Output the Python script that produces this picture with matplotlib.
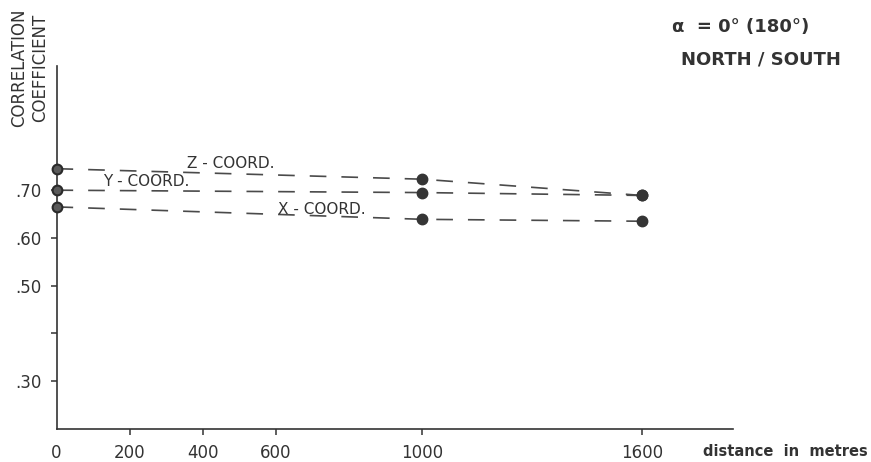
import matplotlib
matplotlib.use("Agg")
import matplotlib.pyplot as plt

# Data
distance = [0, 1000, 1600]
z_coord = [0.745, 0.723, 0.689]
y_coord = [0.700, 0.695, 0.689]
x_coord = [0.665, 0.639, 0.635]
series_names = ["Z - COORD.", "Y - COORD.", "X - COORD."]
x_ticks = [0, 200, 400, 600, 1000, 1600]
x_tick_labels = ["0", "200", "400", "600", "1000", "1600"]
y_ticks = [0.30, 0.40, 0.50, 0.60, 0.70]
y_tick_labels = [".30", "", ".50", ".60", ".70"]

plt.rcParams['font.family'] = ['DejaVu Sans']
ink = '#333333'
line_c = '#4a4a4a'

fig = plt.figure(figsize=(8.71, 4.62), dpi=100)
W, H = 871, 462
left_px, right_px, top_px, bottom_px = 56.5, 733.3, 66, 429
ax = fig.add_axes([left_px / W, 1 - bottom_px / H, (right_px - left_px) / W, (bottom_px - top_px) / H])
ax.set_xlim(0, 1850)
ax.set_ylim(0.20, 0.96)

for s in ['top', 'right']:
    ax.spines[s].set_visible(False)
for s in ['left', 'bottom']:
    ax.spines[s].set_color(ink)
    ax.spines[s].set_linewidth(1.2)

for vals in (z_coord, y_coord, x_coord):
    ax.plot(distance, vals, color=line_c, lw=1.2, dashes=(10, 9), clip_on=False, zorder=2)
    ax.plot(distance[1:], vals[1:], 'o', color='#353535', ms=7.5, clip_on=False, zorder=3)
    ax.plot(distance[:1], vals[:1], 'o', mfc='#5a5a5a', mec='#2a2a2a', mew=1.5, ms=7, clip_on=False, zorder=3)

ax.set_xticks(x_ticks)
ax.set_xticklabels(x_tick_labels)
ax.set_yticks(y_ticks)
ax.set_yticklabels(y_tick_labels)
ax.tick_params(axis='both', direction='out', length=4.5, width=1.1, color=ink,
               labelsize=12, labelcolor=ink, pad=6)
ax.xaxis.get_major_ticks()[0].tick1line.set_visible(False)

# series labels
def px_to_data(px, py):
    return ax.transData.inverted().transform((px, H - py))
fig.canvas.draw()
label_pos = [(231, 164), (146, 182), (322, 210)]
for name, (px, py) in zip(series_names, label_pos):
    dx, dy = px_to_data(px, py)
    ax.text(dx, dy, name, fontsize=11, color=ink, ha='center', va='center', zorder=4)

# axis labels
fig.text(703 / W, 1 - 451 / H, "distance  in  metres", fontsize=10.5, fontweight='bold',
         color=ink, ha='left', va='center')
fig.text(30 / W, 1 - 67.5 / H, "CORRELATION\nCOEFFICIENT", rotation=90, fontsize=12,
         color=ink, ha='center', va='center', linespacing=1.2)

# annotation top-right
fig.text(741 / W, 1 - 27 / H, "\u03b1  = 0\u00b0 (180\u00b0)", fontsize=13, fontweight='bold',
         color=ink, ha='center', va='center')
fig.text(761 / W, 1 - 60 / H, "NORTH / SOUTH", fontsize=13, fontweight='bold',
         color=ink, ha='center', va='center')

fig.savefig("out.png", dpi=100, facecolor='white')
